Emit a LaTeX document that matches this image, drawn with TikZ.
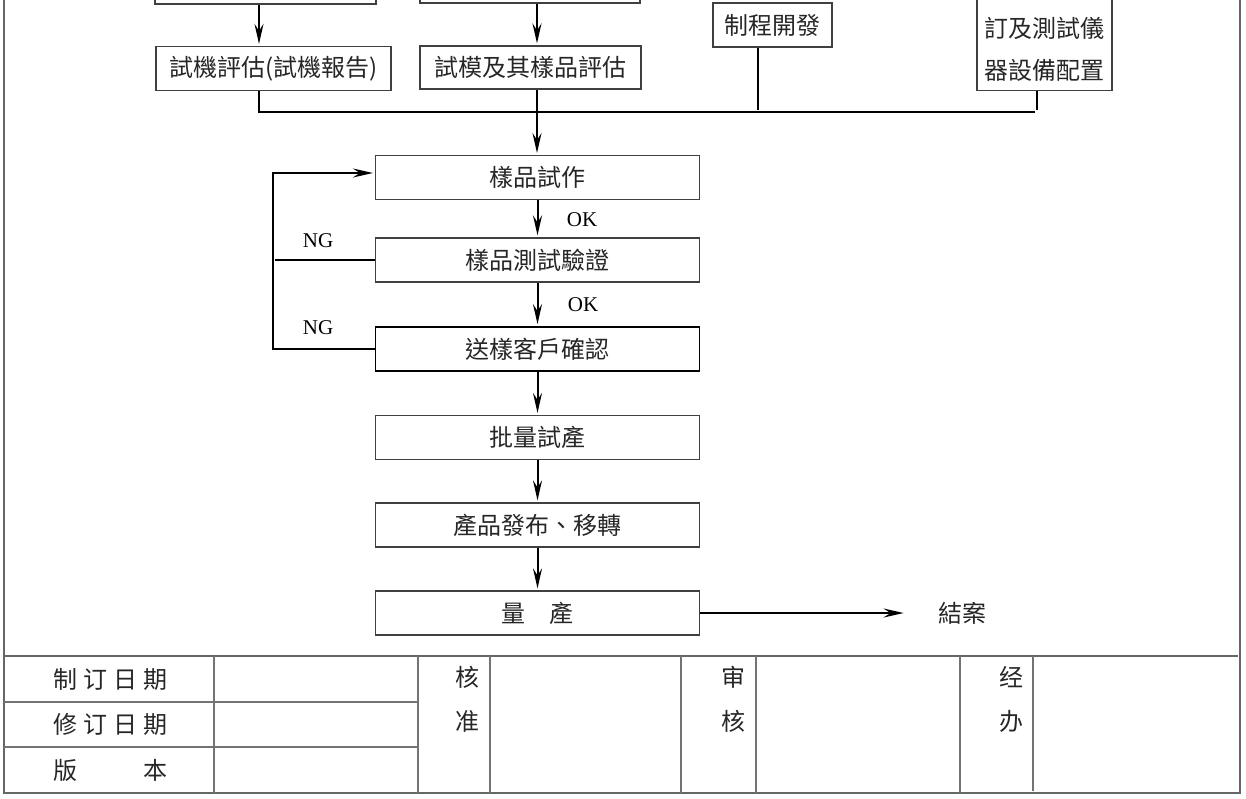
\documentclass[tikz,border=0pt]{standalone}
\usepackage{fontspec}
\setmainfont{Liberation Serif}
\newfontfamily\tcfont{Noto Sans CJK TC}
\newfontfamily\scfont{Noto Sans CJK SC}
\usetikzlibrary{arrows.meta}
\newcommand{\spreadfour}[1]{\makebox[57pt][s]{#1}}

\begin{document}
\begin{tikzpicture}[x=0.5pt,y=-0.5pt,shorten >=1pt,>={Stealth[length=10pt,width=4.5pt,inset=3.5pt]}]
        \tikzstyle{stage}=[draw=black!75,line width=0.6pt,minimum width=162pt,minimum height=22pt,inner sep=0pt,text=black!85,font={\tcfont\fontsize{12pt}{21pt}\selectfont}]
        \tikzstyle{flow}=[draw,line width=1pt,->]
        \tikzstyle{bus}=[draw,line width=1.1pt]
        \tikzstyle{thinline}=[draw,line width=0.65pt]
        \tikzstyle{tag}=[inner sep=0pt,font=\fontsize{10.5pt}{12pt}\selectfont]
        \tikzstyle{frame}=[draw=black!60,line width=0.7pt]
        \tikzstyle{grid}=[draw=black!55,line width=0.6pt]
        \tikzstyle{cell}=[inner sep=0pt,text=black!85,font={\scfont\fontsize{12pt}{22pt}\selectfont}]
        \useasboundingbox (0,0) rectangle (1246,798);
        \clip (0,0) rectangle (1246,798);
       \begin{scope}
         % upper branches
         \node [stage,minimum width=110.5pt,minimum height=27pt] (prevA) at (265.5,-23) {};
         \node [stage,minimum width=110pt,minimum height=27pt] (prevB) at (530,-24) {};
         \node [stage,minimum width=117.5pt] (trial) at (273.5,68.5) {試機評估(試機報告)};
         \node [stage,minimum width=110.5pt,minimum height=21.5pt] (mould) at (530.5,67.5) {試模及其樣品評估};
         \node [stage,minimum width=59.5pt] (process) at (772.5,25) {制程開發};
         \node [stage,minimum width=67.5pt,align=center,anchor=south,inner ysep=4.5pt] (equip) at (1044.5,91) {\mbox{}\\訂及測試儀\\器設備配置};
         \coordinate (procin) at (758,-10);
         \coordinate (busA) at (259,112);
         \coordinate (busB) at (537,112);
         \coordinate (busC) at (758,112);
         \coordinate (busD) at (1037,112);
         \path[flow] (prevA.south -| busA) -- (trial.north -| busA);
         \path[flow] (prevB.south -| busB) -- (mould.north -| busB);
         \path[thinline] (procin) -- (process.north -| procin);
         \path[bus] (trial.south -| busA) -- (busA) -- (busD);
         \path[thinline] (process.south -| busC) -- (busC);
         \path[thinline] (equip.south -| busD) -- (busD);
         \path[flow] (mould.south -| busB) -- (busB) -- (busB |- 0,155);

         % main column
         \node [stage] (sample) at (537.5,177.5) {樣品試作};
         \node [stage] (verify) at (537.5,260) {樣品測試驗證};
         \node [stage,draw=black,line width=0.9pt] (confirm) at (537.5,349) {送樣客戶確認};
         \node [stage] (pilot) at (537.5,437.5) {批量試產};
         \node [stage] (release) at (537.5,525) {產品發布、移轉};
         \node [stage] (mass) at (537.5,613) {量　產};
         \node [inner sep=0pt,text=black!85,font={\tcfont\fontsize{12pt}{14pt}\selectfont}] (close) at (962,613) {結案};
         \node [tag] (ok1) at (582,220) {OK};
         \node [tag] (ok2) at (583,305) {OK};
         \node [tag] (ng1) at (318,241) {NG};
         \node [tag] (ng2) at (318,328) {NG};
         \path[flow] (sample) -- (verify);
         \path[flow] (verify) -- (confirm);
         \path[flow] (confirm) -- (pilot);
         \path[flow] (pilot) -- (release);
         \path[flow] (release) -- (mass);
         \path[flow,shorten >=17pt] (mass) -- (close);

         % NG loop
         \coordinate (loop) at (273,173);
         \path[flow] (confirm.west) -| (loop) -- (sample.west |- loop);
         \path[bus] (verify.west) -- (verify.west -| loop);

         % frame and sign-off table
         \path[frame] (4,-20) rectangle (1240,793);
         \path[frame] (4,656) -- (1240,656);
         \path[grid] (4,702) -- (418,702) (4,747) -- (418,747)
                     (214,656) -- (214,793) (418,656) -- (418,793)
                     (490,656) -- (490,793) (681,656) -- (681,793)
                     (756,656) -- (756,793) (960,656) -- (960,793)
                     (1033,656) -- (1033,793);
         \node [cell] (madeDate) at (110,679) {\spreadfour{制\hfill{}订\hfill{}日\hfill{}期}};
         \node [cell] (reviseDate) at (110,724) {\spreadfour{修\hfill{}订\hfill{}日\hfill{}期}};
         \node [cell] (version) at (110,770) {\spreadfour{版\hfill{}本}};
         \node [cell,align=center] (approve) at (467,699) {核\\准};
         \node [cell,align=center] (review) at (733,699) {审\\核};
         \node [cell,align=center] (handle) at (1011,699) {经\\办};
        \end{scope}
      \end{tikzpicture}
\end{document}
